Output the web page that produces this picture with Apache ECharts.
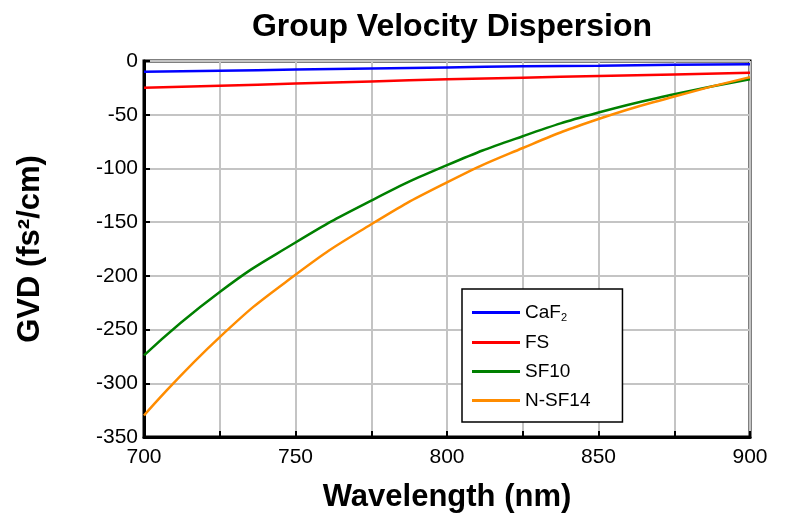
<!DOCTYPE html>
<html><head><meta charset="utf-8">
<script src="https://cdn.jsdelivr.net/npm/echarts@6/dist/echarts.min.js"></script>
<style>body{margin:0}#main{width:800px;height:524px}</style>
</head><body><div id="main"></div>
<script>
const wavelengths = [700, 725, 750, 775, 800, 825, 850, 875, 900];
const caf2 = [-10, -9, -8, -7, -6, -5, -4.5, -3.5, -3];
const fs = [-25, -23, -21, -19, -17, -15.5, -14, -12.5, -11];
const sf10 = [-274, -215, -169, -130, -97, -70, -48, -31, -17];
const nsf14 = [-330, -257, -199, -152, -113, -81, -54, -33, -15];

const chart = echarts.init(document.getElementById('main'));
const mk = (name, data, color) => ({
  name, type: 'line', smooth: true, symbol: 'none',
  data: wavelengths.map((w, i) => [w, data[i]]),
  lineStyle: { color, width: 2.5 }, itemStyle: { color }
});
const axisName = { fontFamily: 'Arial', fontSize: 31, fontWeight: 'bold', color: '#000' };
chart.setOption({
  title: { text: 'Group Velocity Dispersion', left: 447, top: 6, textAlign: 'center',
    textStyle: { fontFamily: 'Arial', fontSize: 32, fontWeight: 'bold', color: '#000' } },
  grid: { left: 144, right: 50, top: 61, bottom: 87 },
  legend: {
    orient: 'vertical', left: 462, top: 289, itemGap: 10, itemWidth: 48, itemHeight: 3,
    borderColor: '#000', borderWidth: 1.5, padding: [14, 32, 12, 10], icon: 'rect',
    textStyle: { fontFamily: 'Arial', fontSize: 19, color: '#000', rich: { sub: { fontSize: 11, verticalAlign: 'bottom', padding: [10, 0, 0, 0] } } },
    formatter: n => n === 'CaF2' ? 'CaF{sub|2}' : n,
    backgroundColor: '#fff'
  },
  xAxis: {
    type: 'value', min: 700, max: 900, interval: 25,
    name: 'Wavelength (nm)', nameLocation: 'middle', nameGap: 45,
    nameTextStyle: axisName,
    axisLine: { onZero: false, lineStyle: { color: '#000', width: 3 } },
    axisTick: { inside: true, length: 6, lineStyle: { color: '#000', width: 2 } },
    axisLabel: { fontFamily: 'Arial', fontSize: 21, color: '#000', margin: 10,
      formatter: v => v % 50 === 0 ? v : '' },
    splitLine: { lineStyle: { color: '#c4c4c4', width: 2 } }
  },
  yAxis: {
    type: 'value', min: -350, max: 0, interval: 50,
    name: 'GVD (fs²/cm)', nameLocation: 'middle', nameGap: 98,
    nameTextStyle: axisName,
    axisLine: { lineStyle: { color: '#000', width: 3 } },
    axisTick: { inside: true, length: 6, lineStyle: { color: '#000', width: 2 } },
    axisLabel: { fontFamily: 'Arial', fontSize: 21, color: '#000', margin: 6 },
    splitLine: { lineStyle: { color: '#c4c4c4', width: 2 } }
  },
  series: [
    mk('CaF2', caf2, '#0000ff'),
    mk('FS', fs, '#ff0000'),
    mk('SF10', sf10, '#008000'),
    mk('N-SF14', nsf14, '#ff8c00')
  ],
  graphic: [{ type: 'rect', shape: { x: 144, y: 61, width: 606, height: 376 },
    style: { fill: 'none', stroke: '#000', lineWidth: 3 }, silent: true }]
});
</script></body></html>
